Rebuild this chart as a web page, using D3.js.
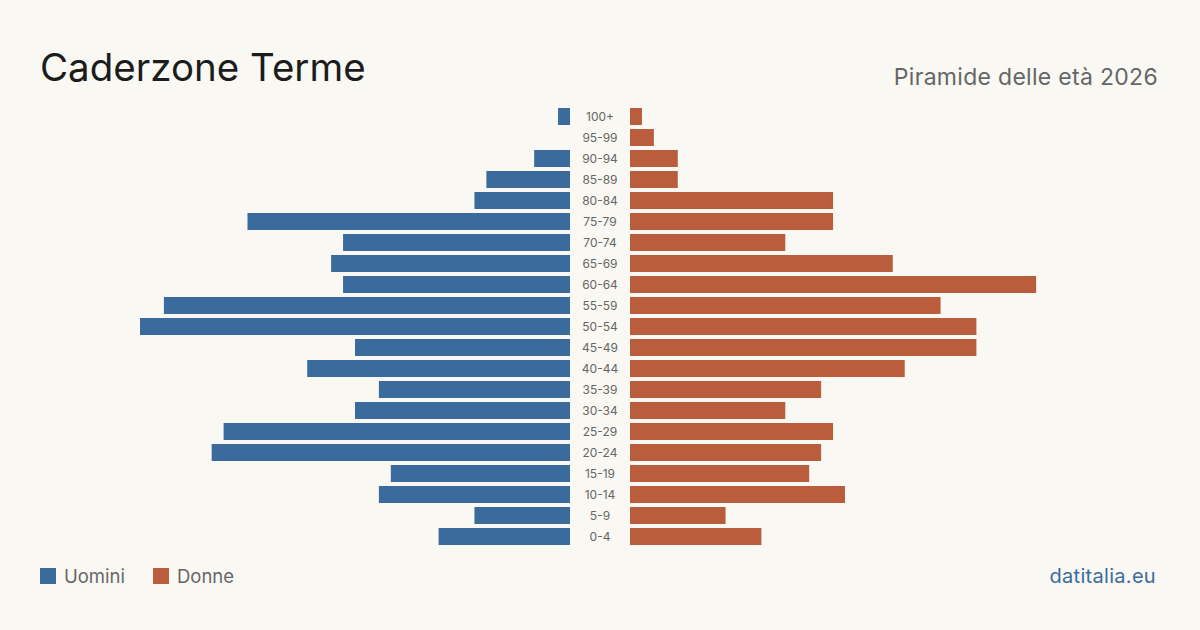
<!DOCTYPE html>
<html>
<head>
<meta charset="utf-8">
<script src="https://cdn.jsdelivr.net/npm/d3@7"></script>
<style>
  html, body { margin: 0; padding: 0; background: #f9f8f3; }
  svg { display: block; font-family: Inter, "Noto Sans", sans-serif; }
</style>
</head>
<body>
<div id="chart"></div>
<script>
// data
const ageGroups = ['100+', '95-99', '90-94', '85-89', '80-84', '75-79', '70-74', '65-69', '60-64', '55-59',
  '50-54', '45-49', '40-44', '35-39', '30-34', '25-29', '20-24', '15-19', '10-14', '5-9', '0-4'];
const men = [1, 0, 3, 7, 8, 27, 19, 20, 19, 34, 36, 18, 22, 16, 18, 29, 30, 15, 16, 8, 11];
const women = [1, 2, 4, 4, 17, 17, 13, 22, 34, 26, 29, 29, 23, 16, 13, 17, 16, 15, 18, 8, 11];

const W = 1200;
const H = 630;
const BLUE = '#3b6b9c';
const RED = '#b95d3d';
const GREY = '#666';
const centerX = 600;
const gap = 30;

const $svg = d3.select('#chart').append('svg').attr('width', W).attr('height', H);

// scales
const maxVal = d3.max([...men, ...women]);
const scaleX = d3.scaleLinear().domain([0, maxVal]).range([0, 430]);
const scaleY = d3.scaleBand().domain(ageGroups).range([106, 547]).paddingInner(0.19).paddingOuter(0.095);

// title
$svg.append('text')
  .attr('x', 40).attr('y', 81)
  .style('font-size', '38.5px')
  .style('fill', '#1c1c1c')
  .text('Caderzone Terme');

$svg.append('text')
  .attr('x', 1158).attr('y', 85)
  .attr('text-anchor', 'end')
  .style('font-size', '23px')
  .style('letter-spacing', '0.3px')
  .style('fill', GREY)
  .text('Piramide delle età 2026');

const $vis = $svg.append('g');

$vis.selectAll('.bar-m')
  .data(ageGroups)
  .join('rect')
  .attr('class', 'bar-m')
  .attr('x', (d, i) => centerX - gap - scaleX(men[i]))
  .attr('y', d => scaleY(d))
  .attr('width', (d, i) => scaleX(men[i]))
  .attr('height', scaleY.bandwidth())
  .attr('fill', BLUE);

$vis.selectAll('.bar-f')
  .data(ageGroups)
  .join('rect')
  .attr('class', 'bar-f')
  .attr('x', centerX + gap)
  .attr('y', d => scaleY(d))
  .attr('width', (d, i) => scaleX(women[i]))
  .attr('height', scaleY.bandwidth())
  .attr('fill', RED);

$vis.selectAll('.age')
  .data(ageGroups)
  .join('text')
  .attr('class', 'age')
  .attr('x', centerX)
  .attr('y', d => scaleY(d) + scaleY.bandwidth() / 2)
  .attr('dy', '0.35em')
  .attr('text-anchor', 'middle')
  .style('font-size', '12px')
  .style('fill', GREY)
  .text(d => d);

// legend
const legend = [{ label: 'Uomini', color: BLUE, x: 40 }, { label: 'Donne', color: RED, x: 153 }];
const $legend = $svg.selectAll('.legend').data(legend).join('g')
  .attr('class', 'legend')
  .attr('transform', d => `translate(${d.x}, 568)`);
$legend.append('rect').attr('width', 16).attr('height', 16).attr('fill', d => d.color);
$legend.append('text')
  .attr('x', 24).attr('y', 15)
  .style('font-size', '18.5px')
  .style('fill', GREY)
  .text(d => d.label);

$svg.append('text')
  .attr('x', 1156).attr('y', 583)
  .attr('text-anchor', 'end')
  .style('font-size', '20px')
  .style('letter-spacing', '0.3px')
  .style('fill', BLUE)
  .text('datitalia.eu');
</script>
</body>
</html>
